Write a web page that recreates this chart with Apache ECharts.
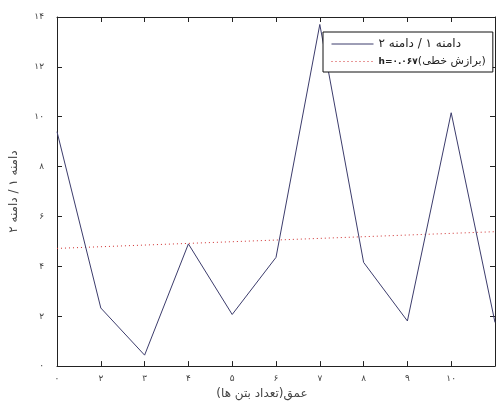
<!DOCTYPE html>
<html>
<head>
<meta charset="utf-8">
<script src="https://cdn.jsdelivr.net/npm/echarts@6/dist/echarts.min.js"></script>
<style>
  html, body { margin: 0; padding: 0; background: #fff; }
  #chart { width: 498px; height: 405px; }
</style>
</head>
<body>
<div id="chart"></div>
<script>
// Depth positions and the amplitude ratio measured at each one
const depthIndex = [0, 1, 2, 3, 4, 5, 6, 7, 8, 9, 10];
const ratioValues = [9.4, 2.33, 0.44, 4.9, 2.07, 4.36, 13.7, 4.16, 1.81, 10.16, 1.75];

// Linear fit, given by its two end values
const trendX = [0, 10];
const trendValues = [4.72, 5.39];

// Tick labels
const xTickLabels = ['۰', '۲', '۳', '۴', '۵', '۶', '۷', '۸', '۹', '۱۰', ''];
const yTickLabels = ['۰', '۲', '۴', '۶', '۸', '۱۰', '۱۲', '۱۴'];

// Right-to-left embedding for the Persian strings
const RLE = '\u202B', PDF = '\u202C';
const rtl = function (s) { return RLE + s + PDF; };

const seriesName = 'دامنه ۱ / دامنه ۲';
const trendName = 'برازش خطی';
const trendSlope = 'h=۰.۰۶۷';
const xTitle = 'عمق(تعداد بتن ها)';
const yTitle = 'دامنه ۱ / دامنه ۲';

const font = 'DejaVu Sans';
const axisColor = '#222';
const textColor = '#444';

const chart = echarts.init(document.getElementById('chart'), null, { renderer: 'canvas' });

const frameAxis = {
  type: 'value',
  axisLine: { show: true, onZero: false, lineStyle: { color: axisColor, width: 1 } },
  axisTick: { show: true, inside: true, length: 5, lineStyle: { color: axisColor } },
  splitLine: { show: false }
};

chart.setOption({
  animation: false,
  backgroundColor: '#fff',
  grid: { left: 51, right: -6, top: 17, bottom: 32, containLabel: false },
  legend: {
    orient: 'vertical',
    left: 323,
    top: 32,
    padding: [6, 7, 5, 8],
    itemGap: 6,
    itemWidth: 42,
    itemHeight: 11,
    borderColor: '#111',
    borderWidth: 1,
    backgroundColor: '#fff',
    itemStyle: { opacity: 0 },
    lineStyle: { width: 1 },
    formatter: function (name) {
      if (name === trendName) {
        return '{d|' + trendSlope + '}{t|' + rtl('(' + trendName + ')') + '}';
      }
      return '{s|' + rtl(name) + '}';
    },
    textStyle: {
      fontFamily: font, fontSize: 11, color: '#222',
      rich: {
        s: { fontFamily: font, fontSize: 12, color: '#222' },
        t: { fontFamily: font, fontSize: 11, color: '#222' },
        d: { fontFamily: font, fontSize: 9, fontWeight: 'bold', color: '#222' }
      }
    },
    data: [seriesName, trendName]
  },
  xAxis: [
    Object.assign({}, frameAxis, {
      min: 0, max: 10, interval: 1,
      position: 'bottom',
      name: '{t|' + rtl(xTitle) + '}',
      nameLocation: 'middle',
      nameGap: 20,
      nameTextStyle: {
        fontFamily: font, fontSize: 12, color: textColor, padding: [0, 28, 0, 0],
        rich: { t: { fontFamily: font, fontSize: 12, color: textColor } }
      },
      axisLabel: {
        margin: 8,
        fontFamily: font, fontSize: 9, color: textColor,
        formatter: function (v) { return xTickLabels[Math.round(v)] || ''; }
      }
    }),
    Object.assign({}, frameAxis, {
      min: 0, max: 10, interval: 1,
      position: 'top',
      axisLabel: { show: false }
    })
  ],
  yAxis: [
    Object.assign({}, frameAxis, {
      min: 0, max: 14, interval: 2,
      position: 'left',
      name: rtl(yTitle),
      nameLocation: 'middle',
      nameGap: 37,
      nameTextStyle: { fontFamily: font, fontSize: 12, color: textColor },
      axisLabel: {
        margin: 13,
        fontFamily: font, fontSize: 9, color: textColor,
        formatter: function (v) { return yTickLabels[Math.round(v / 2)] || ''; }
      }
    }),
    Object.assign({}, frameAxis, {
      min: 0, max: 14, interval: 2,
      position: 'right',
      axisLabel: { show: false }
    })
  ],
  series: [
    {
      name: seriesName,
      type: 'line',
      symbol: 'none',
      data: depthIndex.map(function (x, i) { return [x, ratioValues[i]]; }),
      lineStyle: { color: '#3c3c6c', width: 1 },
      itemStyle: { color: '#3c3c6c' },
      z: 3
    },
    {
      name: trendName,
      type: 'line',
      symbol: 'none',
      data: trendX.map(function (x, i) { return [x, trendValues[i]]; }),
      lineStyle: { color: '#d03030', width: 1, type: [1, 3] },
      itemStyle: { color: '#d03030' },
      z: 2
    }
  ]
});
</script>
</body>
</html>
